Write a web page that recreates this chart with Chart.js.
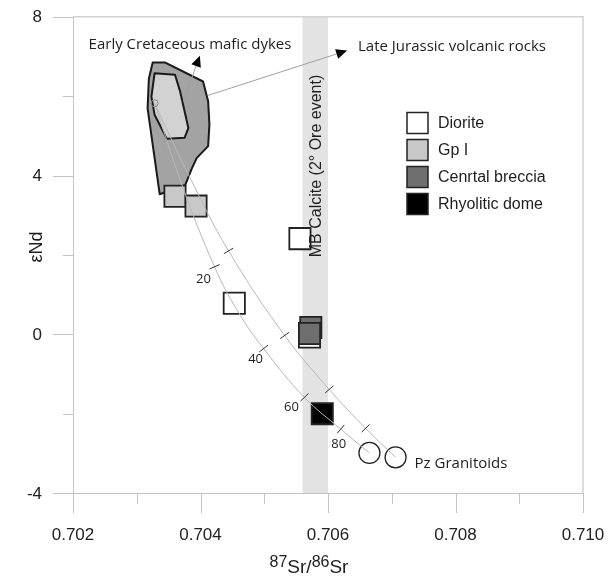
<!DOCTYPE html>
<html lang="en">
<head>
<meta charset="UTF-8" />
<title>Sr-Nd isotopes</title>
<script src="https://cdn.jsdelivr.net/npm/chart.js"></script>
<style>
  body { margin: 0; background: #fff; }
  #wrap { width: 613px; height: 578px; }
</style>
</head>
<body>
<div id="wrap"><canvas id="myChart" width="613" height="578"></canvas></div>
<script>
// samples (87Sr/86Sr, eNd)
const dioriteSr = [0.70556, 0.70453, 0.70571];
const dioriteNd = [2.41, 0.78, -0.07];
const gp1Sr = [0.70360, 0.70393];
const gp1Nd = [3.48, 3.23];
const brecciaSr = [0.70573, 0.70571];
const brecciaNd = [0.17, 0.02];
const domeSr = [0.70591];
const domeNd = [-2.00];
const pzSr = [0.70665, 0.70706];
const pzNd = [-2.99, -3.10];
const mantleSr = [0.70328];
const mantleNd = [5.82];

// mixing curves
const mixInnerSr = [0.70328, 0.70371, 0.70422, 0.70458, 0.70499, 0.70563, 0.70620, 0.70665];
const mixInnerNd = [5.82, 3.76, 1.70, 0.59, -0.36, -1.59, -2.39, -2.99];
const mixOuterSr = [0.70328, 0.70383, 0.70444, 0.70532, 0.70602, 0.70659, 0.70706];
const mixOuterNd = [5.82, 3.96, 2.10, -0.03, -1.39, -2.37, -3.10];
const tickInnerSr = [0.70422, 0.70499, 0.70563, 0.70620];
const tickInnerNd = [1.70, -0.36, -1.59, -2.39];
const tickOuterSr = [0.70444, 0.70532, 0.70602, 0.70659];
const tickOuterNd = [2.10, -0.03, -1.39, -2.37];
const mixLabels = ['20', '40', '60', '80'];

// fields
const dykesSr = [0.70325, 0.70344, 0.70404, 0.70412, 0.70414, 0.70412, 0.70394, 0.70386, 0.70376, 0.70336, 0.70328, 0.70317, 0.70319];
const dykesNd = [6.85, 6.85, 6.37, 5.87, 5.29, 4.74, 4.44, 4.16, 3.76, 3.53, 4.44, 5.69, 6.44];
const volcSr = [0.70328, 0.70360, 0.70368, 0.70381, 0.70375, 0.70347, 0.70328, 0.70323];
const volcNd = [6.58, 6.54, 6.12, 5.20, 4.95, 4.93, 5.53, 5.99];
const calciteBand = [0.7056, 0.7060];
const arrowDykes = [[0.70373, 5.87], [0.70399, 7.02]];
const arrowVolc = [[0.70412, 6.02], [0.70630, 7.15]];

const pts = (xs, ys) => xs.map((x, i) => ({ x: x, y: ys[i] }));
const FONT = "'Liberation Sans', Arial, sans-serif";
const NOTE_FONT = "'Open Sans', 'Noto Sans', sans-serif";

// tick mark on a mixing curve, drawn across the curve
function crossAngle(c, xs, ys) {
  if (c.dataIndex === undefined || !c.chart.scales.x) return 0;
  const sx = c.chart.scales.x, sy = c.chart.scales.y;
  const p = c.raw;
  let j = xs.indexOf(p.x);
  if (j < 1) j = 1;
  const k = Math.min(j + 1, xs.length - 1);
  const dx = sx.getPixelForValue(xs[k]) - sx.getPixelForValue(xs[j - 1]);
  const dy = sy.getPixelForValue(ys[k]) - sy.getPixelForValue(ys[j - 1]);
  return Math.atan2(dy, dx) * 180 / Math.PI - 90;
}

function drawArrow(ctx, x0, y0, x1, y1) {
  const a = Math.atan2(y1 - y0, x1 - x0), L = 11, W = 5;
  const bx = x1 - Math.cos(a) * L, by = y1 - Math.sin(a) * L;
  ctx.beginPath();
  ctx.moveTo(x0, y0);
  ctx.lineTo(bx, by);
  ctx.strokeStyle = '#a0a0a0';
  ctx.lineWidth = 1;
  ctx.stroke();
  ctx.beginPath();
  ctx.moveTo(x1, y1);
  ctx.lineTo(bx - Math.sin(a) * W, by + Math.cos(a) * W);
  ctx.lineTo(bx + Math.sin(a) * W, by - Math.cos(a) * W);
  ctx.closePath();
  ctx.fillStyle = '#000';
  ctx.fill();
}

const xLabel = v => { const k = Math.round(v * 1000); return k % 2 === 0 ? (k / 1000).toFixed(3) : ''; };
const yLabel = v => (Math.round(v) % 4 === 0 ? String(Math.round(v)) : '');

const isoPlugin = {
  id: 'iso',
  beforeDatasetsDraw(chart) {
    const { ctx, chartArea: a, scales: { x, y } } = chart;
    ctx.save();
    // MB calcite band
    const b0 = x.getPixelForValue(calciteBand[0]), b1 = x.getPixelForValue(calciteBand[1]);
    ctx.fillStyle = '#e3e3e3';
    ctx.fillRect(b0, a.top, b1 - b0, a.bottom - a.top);

    // fields
    const poly = (xs, ys, fill) => {
      ctx.beginPath();
      xs.forEach((v, i) => {
        const X = x.getPixelForValue(v), Y = y.getPixelForValue(ys[i]);
        if (i) ctx.lineTo(X, Y); else ctx.moveTo(X, Y);
      });
      ctx.closePath();
      ctx.fillStyle = fill;
      ctx.fill();
      ctx.lineWidth = 2;
      ctx.lineJoin = 'round';
      ctx.strokeStyle = '#1a1a1a';
      ctx.stroke();
    };
    poly(dykesSr, dykesNd, '#a3a3a3');
    poly(volcSr, volcNd, '#d2d2d2');

    // annotation arrows
    const ar = (p) => drawArrow(ctx, x.getPixelForValue(p[0][0]), y.getPixelForValue(p[0][1]),
      x.getPixelForValue(p[1][0]), y.getPixelForValue(p[1][1]));
    ar(arrowDykes);
    ar(arrowVolc);
    ctx.restore();
  },
  afterDraw(chart) {
    const { ctx, chartArea: a, scales: { x, y } } = chart;
    ctx.save();
    // frame
    ctx.strokeStyle = '#d2d2d2';
    ctx.lineWidth = 1.5;
    ctx.beginPath();
    ctx.moveTo(a.left, a.top);
    ctx.lineTo(a.right, a.top);
    ctx.lineTo(a.right, a.bottom);
    ctx.stroke();
    // axes + tick marks
    ctx.strokeStyle = '#c4c4c4';
    ctx.lineWidth = 1;
    ctx.beginPath();
    ctx.moveTo(a.left + 0.5, a.top);
    ctx.lineTo(a.left + 0.5, a.bottom);
    ctx.moveTo(a.left, a.bottom + 0.5);
    ctx.lineTo(a.right, a.bottom + 0.5);
    x.ticks.forEach((t, i) => {
      const X = Math.round(x.getPixelForValue(t.value)) + 0.5;
      const len = xLabel(t.value) ? 20 : 11;
      ctx.moveTo(X, a.bottom);
      ctx.lineTo(X, a.bottom + len);
    });
    y.ticks.forEach((t, i) => {
      const Y = Math.round(y.getPixelForValue(t.value)) + 0.5;
      const len = yLabel(t.value) ? 20 : 10;
      ctx.moveTo(a.left, Y);
      ctx.lineTo(a.left - len, Y);
    });
    ctx.stroke();

    // tick labels
    ctx.fillStyle = '#222';
    ctx.font = '17px ' + FONT;
    ctx.textBaseline = 'middle';
    ctx.textAlign = 'center';
    x.ticks.forEach(t => {
      const l = xLabel(t.value);
      if (l) ctx.fillText(l, x.getPixelForValue(t.value), a.bottom + 42);
    });
    ctx.textAlign = 'right';
    y.ticks.forEach(t => {
      const l = yLabel(t.value);
      if (l) ctx.fillText(l, a.left - 31, y.getPixelForValue(t.value) + 1);
    });

    ctx.fillStyle = '#1e1e1e';
    // y title
    ctx.save();
    ctx.translate(37, 247);
    ctx.rotate(-Math.PI / 2);
    ctx.font = '18px ' + FONT;
    ctx.textAlign = 'center';
    ctx.textBaseline = 'middle';
    ctx.fillText('εNd', 0, 0);
    ctx.restore();

    // x title 87Sr/86Sr
    const parts = [['87', 16, -6], ['Sr', 19, 0], ['/', 19, 0], ['86', 16, -6], ['Sr', 19, 0]];
    let w = 0;
    parts.forEach(p => { ctx.font = p[1] + 'px ' + FONT; w += ctx.measureText(p[0]).width; });
    let cx = 309 - w / 2;
    ctx.textAlign = 'left';
    ctx.textBaseline = 'alphabetic';
    parts.forEach(p => {
      ctx.font = p[1] + 'px ' + FONT;
      ctx.fillText(p[0], cx, 573 + p[2]);
      cx += ctx.measureText(p[0]).width;
    });

    // band label
    ctx.save();
    ctx.translate((x.getPixelForValue(calciteBand[0]) + x.getPixelForValue(calciteBand[1])) / 2 + 1, 166);
    ctx.rotate(-Math.PI / 2);
    ctx.font = '16px ' + FONT;
    ctx.textAlign = 'center';
    ctx.textBaseline = 'middle';
    ctx.fillText('MB Calcite (2° Ore event)', 0, 0);
    ctx.restore();

    // notes
    ctx.font = '15px ' + NOTE_FONT;
    ctx.textBaseline = 'middle';
    ctx.textAlign = 'center';
    ctx.fillText('Early Cretaceous mafic dykes', 190, 45);
    ctx.textAlign = 'left';
    ctx.fillText('Late Jurassic volcanic rocks', 358, 47);
    const pzX = x.getPixelForValue(pzSr[1]), pzY = y.getPixelForValue(pzNd[1]);
    ctx.fillText('Pz Granitoids', pzX + 19, pzY + 6);

    // mixing % labels
    const offs = [[-11, 12], [-8, 11], [-13, 10], [-2, 15]];
    ctx.font = '13px ' + NOTE_FONT;
    ctx.textAlign = 'center';
    mixLabels.forEach((l, i) => {
      ctx.fillText(l, x.getPixelForValue(tickInnerSr[i]) + offs[i][0], y.getPixelForValue(tickInnerNd[i]) + offs[i][1]);
    });

    // legend
    const items = chart.data.datasets.filter(d => d.inLegend);
    ctx.font = '16px ' + FONT;
    ctx.textAlign = 'left';
    items.forEach((d, i) => {
      const cy = 123 + i * 27;
      ctx.fillStyle = d.pointBackgroundColor;
      ctx.fillRect(407, cy - 10.5, 21, 21);
      ctx.strokeStyle = '#222';
      ctx.lineWidth = 1.5;
      ctx.strokeRect(407, cy - 10.5, 21, 21);
      ctx.fillStyle = '#1e1e1e';
      ctx.fillText(d.label, 438, cy + 1);
    });
    ctx.restore();
  }
};

const square = (label, xs, ys, fill, order) => ({
  label: label, data: pts(xs, ys), inLegend: true, order: order,
  pointStyle: 'rect', pointRadius: 15, pointHoverRadius: 15,
  pointBackgroundColor: fill, pointBorderColor: '#222', pointBorderWidth: 1.8
});

new Chart(document.getElementById('myChart'), {
  type: 'scatter',
  data: {
    datasets: [
      square('Diorite', dioriteSr, dioriteNd, '#ffffff', 6),
      square('Gp I', gp1Sr, gp1Nd, '#c8c8c8', 5),
      square('Cenrtal breccia', brecciaSr, brecciaNd, '#6f6f6f', 4),
      square('Rhyolitic dome', domeSr, domeNd, '#000000', 3),
      {
        label: 'Pz granitoids', data: pts(pzSr, pzNd), order: 3,
        pointRadius: 10.5, pointBackgroundColor: '#fff', pointBorderColor: '#222', pointBorderWidth: 1.3
      },
      {
        label: 'mix 1', data: pts(mixInnerSr, mixInnerNd), order: 2, showLine: true,
        pointRadius: 0, borderColor: '#b8b8b8', borderWidth: 1, tension: 0.4
      },
      {
        label: 'mix 2', data: pts(mixOuterSr, mixOuterNd), order: 2, showLine: true,
        pointRadius: 0, borderColor: '#b8b8b8', borderWidth: 1, tension: 0.4
      },
      {
        label: 'ticks 1', data: pts(tickInnerSr, tickInnerNd), order: 1,
        pointStyle: 'line', pointRadius: 5.5, pointBorderColor: '#333', pointBorderWidth: 1,
        rotation: c => crossAngle(c, mixInnerSr, mixInnerNd)
      },
      {
        label: 'ticks 2', data: pts(tickOuterSr, tickOuterNd), order: 1,
        pointStyle: 'line', pointRadius: 5.5, pointBorderColor: '#333', pointBorderWidth: 1,
        rotation: c => crossAngle(c, mixOuterSr, mixOuterNd)
      },
      {
        label: 'source', data: pts(mantleSr, mantleNd), order: 1,
        pointRadius: 3.5, pointBackgroundColor: 'rgba(0,0,0,0)', pointBorderColor: '#888', pointBorderWidth: 1
      }
    ]
  },
  options: {
    responsive: false,
    animation: false,
    devicePixelRatio: 1,
    events: [],
    layout: { padding: { top: 15, right: 30, left: 0, bottom: 0 } },
    plugins: { legend: { display: false }, tooltip: { enabled: false } },
    scales: {
      x: {
        type: 'linear', min: 0.702, max: 0.710,
        grid: { display: false, drawTicks: false }, border: { display: false },
        ticks: { stepSize: 0.001, display: false },
        afterFit: s => { s.height = 85; }
      },
      y: {
        min: -4, max: 8,
        grid: { display: false, drawTicks: false }, border: { display: false },
        ticks: { stepSize: 2, display: false },
        afterFit: s => { s.width = 73; }
      }
    }
  },
  plugins: [isoPlugin]
});
</script>
</body>
</html>
